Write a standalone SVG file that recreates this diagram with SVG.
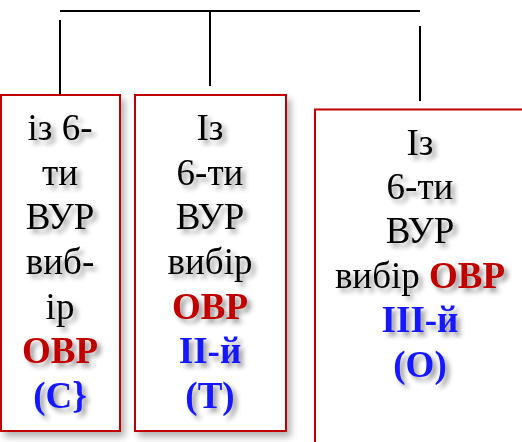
<svg xmlns="http://www.w3.org/2000/svg" width="522" height="442" viewBox="0 0 522 442">
  <defs>
    <filter id="boxShadow" x="-10%" y="-10%" width="130%" height="130%">
      <feGaussianBlur in="SourceAlpha" stdDeviation="3.5"/>
      <feOffset dx="4" dy="5" result="b"/>
      <feComponentTransfer><feFuncA type="linear" slope="0.3"/></feComponentTransfer>
      <feMerge><feMergeNode/><feMergeNode in="SourceGraphic"/></feMerge>
    </filter>
    <filter id="textShadow" x="-20%" y="-20%" width="140%" height="140%">
      <feGaussianBlur in="SourceAlpha" stdDeviation="2.5"/>
      <feOffset dx="4" dy="4" result="b"/>
      <feComponentTransfer><feFuncA type="linear" slope="0.4"/></feComponentTransfer>
      <feMerge><feMergeNode/><feMergeNode in="SourceGraphic"/></feMerge>
    </filter>
  </defs>
  <style>
    .box { fill: #ffffff; stroke: #c00000; stroke-width: 2; }
    .conn { stroke: #000000; stroke-width: 2; fill: none; }
    text { font-family: "Liberation Serif", "Times New Roman", serif; font-size: 37px; text-anchor: middle; fill: #000000; }
    .red { font-weight: bold; fill: #c00000; }
    .blue { font-weight: bold; fill: #1414ff; }
  </style>
  <rect width="522" height="442" fill="#ffffff"/>
  <g id="connectors">
    <line class="conn" x1="60" y1="11" x2="420" y2="11"/>
    <line class="conn" x1="60" y1="20" x2="60" y2="95"/>
    <line class="conn" x1="210" y1="11" x2="210" y2="86"/>
    <line class="conn" x1="420" y1="26" x2="420" y2="101"/>
  </g>
  <g id="node1">
    <rect class="box" x="1" y="95" width="119" height="336" filter="url(#boxShadow)"/>
    <g filter="url(#textShadow)">
      <text x="60" y="140">із 6-</text>
      <text x="60" y="185">ти</text>
      <text x="60" y="229">ВУР</text>
      <text x="60" y="274">виб-</text>
      <text x="60" y="319">ір</text>
      <text x="60" y="363" class="red">ОВР</text>
      <text x="60" y="408" class="blue">(С}</text>
    </g>
  </g>
  <g id="node2">
    <rect class="box" x="135" y="95" width="151" height="336" filter="url(#boxShadow)"/>
    <g filter="url(#textShadow)">
      <text x="210" y="140">Із</text>
      <text x="210" y="185">6-ти</text>
      <text x="210" y="229">ВУР</text>
      <text x="210" y="274">вибір</text>
      <text x="210" y="319" class="red">ОВР</text>
      <text x="210" y="363" class="blue">ІІ-й</text>
      <text x="210" y="408" class="blue">(Т)</text>
    </g>
  </g>
  <g id="node3">
    <rect class="box" x="315" y="109.5" width="230" height="350" filter="url(#boxShadow)"/>
    <g filter="url(#textShadow)">
      <text x="420" y="155">Із</text>
      <text x="420" y="199">6-ти</text>
      <text x="420" y="243">ВУР</text>
      <text x="420" y="288">вибір <tspan class="red">ОВР</tspan></text>
      <text x="420" y="332" class="blue">ІІІ-й</text>
      <text x="420" y="377" class="blue">(О)</text>
    </g>
  </g>
</svg>
